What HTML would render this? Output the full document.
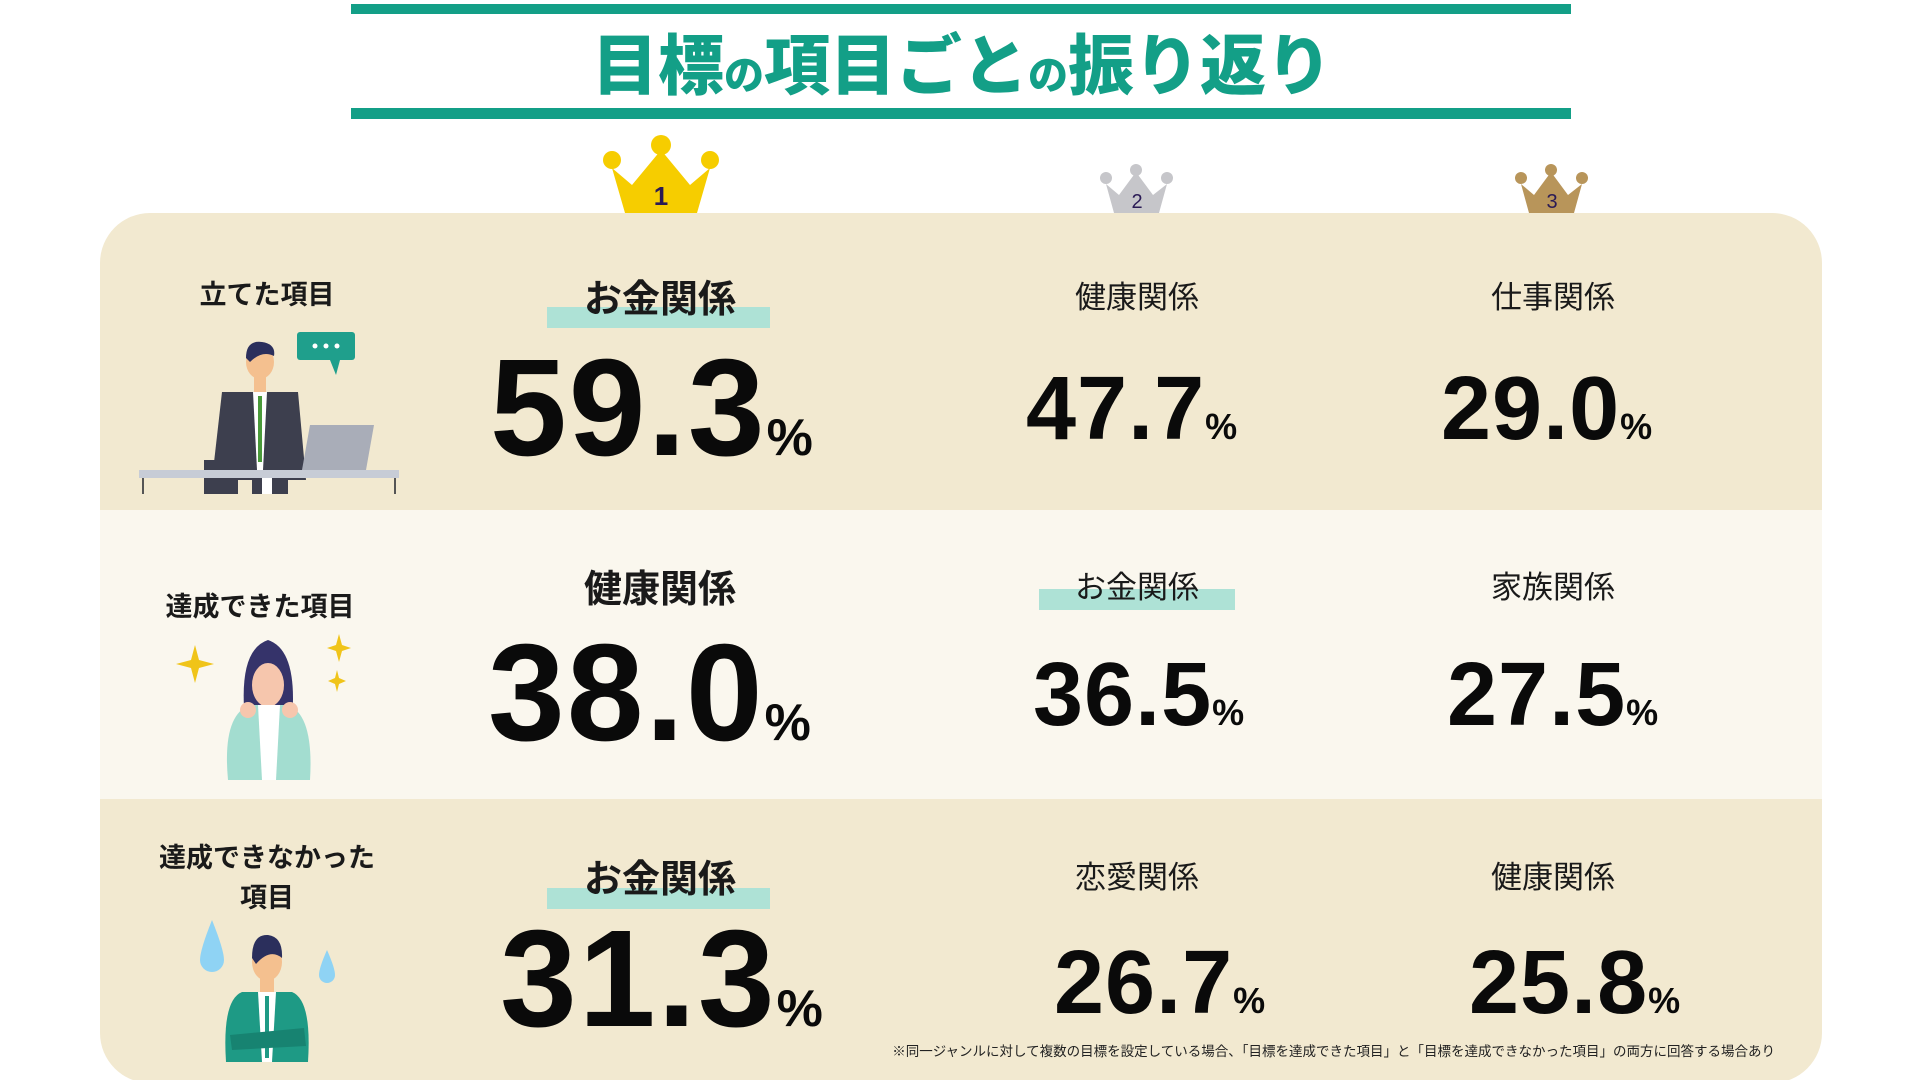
<!DOCTYPE html>
<html><head><meta charset="utf-8"><style>
html,body{margin:0;padding:0;background:#fff;width:1920px;height:1080px;overflow:hidden}
svg{display:block}
text{font-family:"Liberation Sans","Noto Sans CJK JP",sans-serif}
.j{font-family:"Noto Sans CJK JP","Liberation Sans",sans-serif}
</style></head><body>
<svg width="1920" height="1080" viewBox="0 0 1920 1080" xmlns="http://www.w3.org/2000/svg">
<rect x="351" y="4" width="1220" height="10" fill="#139f87"/>
<rect x="351" y="108" width="1220" height="11" fill="#139f87"/>
<text class="j" x="962" y="89" text-anchor="middle" font-size="66" font-weight="900" fill="#139f87">目標<tspan font-size="40">の</tspan>項目ごと<tspan font-size="40">の</tspan>振り返り</text>

<defs><clipPath id="c"><rect x="100" y="213" width="1722" height="870" rx="50"/></clipPath></defs>
<g clip-path="url(#c)">
<rect x="100" y="213" width="1722" height="297" fill="#f2e9d0"/>
<rect x="100" y="510" width="1722" height="289" fill="#faf7ee"/>
<rect x="100" y="799" width="1722" height="290" fill="#f2e9d0"/>
</g>

<g fill="#f6cd00">
<path d="M612 168 L625 213 L697 213 L710 168 L690 185 L661 150 L632 185 Z"/>
<circle cx="612" cy="160" r="9"/><circle cx="661" cy="145" r="10"/><circle cx="710" cy="160" r="9"/>
</g>
<text x="661" y="205" text-anchor="middle" font-size="26" font-weight="bold" fill="#2a1a55" font-family="Liberation Serif">1</text>
<g fill="#c6c6ca">
<path d="M1106 184 L1114 213 L1159 213 L1167 184 L1153 195 L1136 172 L1119 195 Z"/>
<circle cx="1106" cy="178" r="6"/><circle cx="1136" cy="170" r="6"/><circle cx="1167" cy="178" r="6"/>
</g>
<text x="1137" y="208" text-anchor="middle" font-size="20" fill="#2a1a55" font-family="Liberation Serif">2</text>
<g fill="#b8955a">
<path d="M1521 184 L1529 213 L1574 213 L1582 184 L1568 195 L1551 172 L1534 195 Z"/>
<circle cx="1521" cy="178" r="6"/><circle cx="1551" cy="170" r="6"/><circle cx="1582" cy="178" r="6"/>
</g>
<text x="1552" y="208" text-anchor="middle" font-size="20" fill="#2a1a55" font-family="Liberation Serif">3</text>

<rect x="547" y="307" width="223" height="21" fill="#aee2d6"/>
<rect x="1039" y="589" width="196" height="21" fill="#aee2d6"/>
<rect x="547" y="888" width="223" height="21" fill="#aee2d6"/>

<text class="j" x="267" y="304" text-anchor="middle" font-size="27" font-weight="bold" fill="#1a1a1a">立てた項目</text>
<text class="j" x="260" y="616" text-anchor="middle" font-size="27" font-weight="bold" fill="#1a1a1a">達成できた項目</text>
<text class="j" x="267" y="867" text-anchor="middle" font-size="27" font-weight="bold" fill="#1a1a1a">達成できなかった</text>
<text class="j" x="267" y="907" text-anchor="middle" font-size="27" font-weight="bold" fill="#1a1a1a">項目</text>

<g class="j" text-anchor="middle" fill="#1a1a1a">
<text x="660" y="312" font-size="38" font-weight="bold" class="j">お金関係</text>
<text x="1137" y="308" font-size="31" class="j">健康関係</text>
<text x="1553" y="308" font-size="31" class="j">仕事関係</text>
<text x="660" y="602" font-size="38" font-weight="bold" class="j">健康関係</text>
<text x="1137" y="598" font-size="31" class="j">お金関係</text>
<text x="1553" y="598" font-size="31" class="j">家族関係</text>
<text x="660" y="892" font-size="38" font-weight="bold" class="j">お金関係</text>
<text x="1137" y="888" font-size="31" class="j">恋愛関係</text>
<text x="1553" y="888" font-size="31" class="j">健康関係</text>
</g>

<g font-weight="bold" fill="#0a0a0a">
<text x="490" y="455" font-size="138" letter-spacing="2">59.3<tspan font-size="52">%</tspan></text>
<text x="1026" y="439" font-size="90" letter-spacing="1">47.7<tspan font-size="36">%</tspan></text>
<text x="1441" y="439" font-size="90" letter-spacing="1">29.0<tspan font-size="36">%</tspan></text>
<text x="488" y="740" font-size="138" letter-spacing="2">38.0<tspan font-size="52">%</tspan></text>
<text x="1033" y="725" font-size="90" letter-spacing="1">36.5<tspan font-size="36">%</tspan></text>
<text x="1447" y="725" font-size="90" letter-spacing="1">27.5<tspan font-size="36">%</tspan></text>
<text x="500" y="1026" font-size="138" letter-spacing="2">31.3<tspan font-size="52">%</tspan></text>
<text x="1054" y="1013" font-size="90" letter-spacing="1">26.7<tspan font-size="36">%</tspan></text>
<text x="1469" y="1013" font-size="90" letter-spacing="1">25.8<tspan font-size="36">%</tspan></text>
</g>

<text class="j" x="1775" y="1056" text-anchor="end" font-size="13.5" fill="#222">※同一ジャンルに対して複数の目標を設定している場合、「目標を達成できた項目」と「目標を達成できなかった項目」の両方に回答する場合あり</text>

<rect x="297" y="332" width="58" height="28" rx="3" fill="#1f9f8c"/>
<path d="M330 360 L336 375 L340 360 Z" fill="#1f9f8c"/>
<circle cx="315" cy="346" r="2.5" fill="#fff"/><circle cx="326" cy="346" r="2.5" fill="#fff"/><circle cx="337" cy="346" r="2.5" fill="#fff"/>
<ellipse cx="260" cy="362" rx="14" ry="17" fill="#f4c08f"/>
<path d="M246 358 Q246 340 262 342 Q276 344 274 356 Q262 350 250 362 Z" fill="#2b2f5c"/>
<rect x="254" y="375" width="12" height="18" fill="#f4c08f"/>
<path d="M222 392 L298 392 L306 480 L212 480 Z" fill="#3d3f4e"/>
<path d="M253 392 L267 392 L263 470 L257 470 Z" fill="#fff"/>
<rect x="258" y="396" width="4" height="66" fill="#4a9a3a"/>
<path d="M310 425 L374 425 L366 470 L302 470 Z" fill="#a9adb8"/>
<rect x="204" y="460" width="34" height="34" fill="#3d3f4e"/>
<rect x="139" y="470" width="260" height="8" fill="#c7ccd6"/>
<rect x="142" y="478" width="2" height="16" fill="#555"/><rect x="394" y="478" width="2" height="16" fill="#555"/>
<rect x="252" y="478" width="36" height="16" fill="#3d3f4e"/><rect x="262" y="478" width="10" height="16" fill="#fff"/>

<path d="M195 645 L199 660 L214 664 L199 668 L195 683 L191 668 L176 664 L191 660 Z" fill="#f0c419"/>
<path d="M339 634 L342 645 L351 648 L342 651 L339 662 L336 651 L327 648 L336 645 Z" fill="#f0c419"/>
<path d="M337 670 L339 678 L346 681 L339 684 L337 692 L335 684 L328 681 L335 678 Z" fill="#f0c419"/>
<path d="M245 720 Q238 650 268 640 Q298 650 292 720 Z" fill="#35336a"/>
<ellipse cx="268" cy="685" rx="16" ry="22" fill="#f6c6ad"/>
<path d="M228 780 Q222 715 250 705 L288 705 Q314 715 310 780 Z" fill="#a3ddd0"/>
<path d="M258 705 L280 705 L276 780 L262 780 Z" fill="#fff"/>
<circle cx="248" cy="710" r="8" fill="#f6c6ad"/><circle cx="290" cy="710" r="8" fill="#f6c6ad"/>

<path d="M212 920 Q200 950 200 960 A12 12 0 0 0 224 960 Q224 950 212 920 Z" fill="#8fd3f4"/>
<path d="M327 950 Q319 968 319 975 A8 8 0 0 0 335 975 Q335 968 327 950 Z" fill="#8fd3f4"/>
<ellipse cx="267" cy="962" rx="15" ry="19" fill="#f4c08f"/>
<path d="M252 958 Q252 934 268 935 Q283 937 282 958 Q270 948 256 964 Z" fill="#2b2f5c"/>
<rect x="260" y="978" width="14" height="14" fill="#f4c08f"/>
<path d="M226 1062 Q222 1000 242 992 L292 992 Q312 1000 308 1062 Z" fill="#1e9a85"/>
<path d="M258 992 L276 992 L272 1062 L262 1062 Z" fill="#fff"/>
<rect x="265" y="996" width="4" height="62" fill="#1e9a85"/>
<path d="M230 1035 L304 1028 L306 1046 L232 1050 Z" fill="#178371"/>
</svg>
</body></html>
